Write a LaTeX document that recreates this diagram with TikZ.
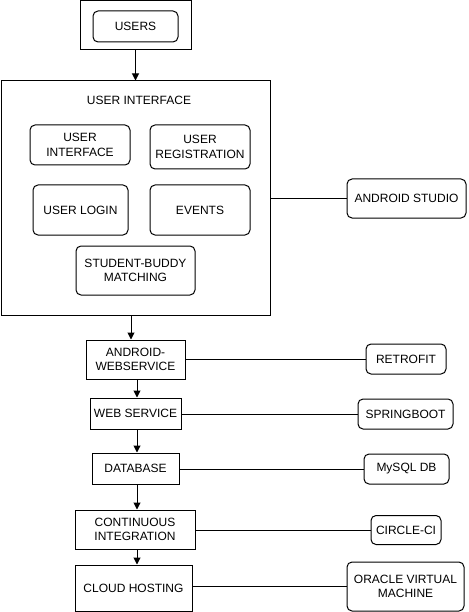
\documentclass[tikz,border=0pt]{standalone}
\usepackage{fontspec}
\setmainfont{Liberation Sans}
\usetikzlibrary{arrows.meta}
\begin{document}
\begin{tikzpicture}[x=1pt,y=-1pt,
  box/.style={draw=black,line width=1pt,inner sep=0pt,align=center,font={\fontsize{12}{14.5}\selectfont}},
  rbox/.style={box,rounded corners=5pt},
  sbox/.style={box},
  arr/.style={line width=1pt,-{Triangle[length=7pt,width=7pt]}},
  con/.style={line width=1pt}]
\useasboundingbox (0,0) rectangle (468,612);
% top
\node[sbox,minimum width=111pt,minimum height=49.5pt] (uo) at (135.5,25.25) {};
\node[rbox,minimum width=85pt,minimum height=31pt] (users) at (135.5,26.5) {USERS};
% big UI box
\node[sbox,minimum width=269pt,minimum height=234pt] (ui) at (135.5,198) {};
\node[inner sep=0pt,font={\fontsize{12}{14.5}\selectfont}] (uititle) at (139,100) {USER INTERFACE};
\node[rbox,minimum width=100pt,minimum height=40pt] (uib) at (80,145) {USER\\INTERFACE};
\node[rbox,minimum width=100pt,minimum height=44pt] (ureg) at (200,147) {USER\\REGISTRATION};
\node[rbox,minimum width=95pt,minimum height=50pt] (login) at (80.5,210) {USER LOGIN};
\node[rbox,minimum width=100pt,minimum height=50pt] (events) at (200,210) {EVENTS};
\node[rbox,minimum width=119pt,minimum height=49pt] (sbm) at (135.5,270.5) {STUDENT-BUDDY\\MATCHING};
\node[rbox,minimum width=119pt,minimum height=39pt] (as) at (406.5,198.5) {ANDROID STUDIO};
% chain
\node[sbox,minimum width=99pt,minimum height=39pt] (aws) at (135.5,359.5) {ANDROID-\\WEBSERVICE};
\node[rbox,minimum width=80pt,minimum height=30pt] (retro) at (406,359) {RETROFIT};
\node[sbox,minimum width=91pt,minimum height=31pt] (ws) at (135.5,413.5) {WEB SERVICE};
\node[rbox,minimum width=95pt,minimum height=30pt] (spring) at (405.5,414) {SPRINGBOOT};
\node[sbox,minimum width=87pt,minimum height=31pt] (db) at (135.5,468.5) {DATABASE};
\node[rbox,minimum width=85pt,minimum height=30pt] (mysql) at (406.5,469) {MySQL DB};
\node[sbox,minimum width=120pt,minimum height=39pt] (ci) at (135,529.5) {CONTINUOUS\\INTEGRATION};
\node[rbox,minimum width=70pt,minimum height=29pt] (circ) at (406,530) {CIRCLE-CI};
\node[sbox,minimum width=117pt,minimum height=46pt] (ch) at (133.5,588) {CLOUD HOSTING};
\node[rbox,minimum width=117pt,minimum height=49pt] (oracle) at (405.5,586.5) {ORACLE VIRTUAL\\MACHINE};
% arrows
\draw[arr] (uo.south) -- (ui.north);
\draw[arr] ([xshift=-4.5pt]aws.north |- ui.south) -- ([xshift=-4.5pt]aws.north);
\draw[arr] ([xshift=1.5pt]aws.south) -- ([xshift=1.5pt]ws.north);
\draw[arr] ([xshift=1.5pt]ws.south) -- ([xshift=1.5pt]db.north);
\draw[arr] ([xshift=1.5pt]db.south) -- ([xshift=2pt]ci.north);
\draw[arr] ([xshift=2pt]ci.south) -- ([xshift=3.5pt]ch.north);
% connectors
\draw[con] (ui.east |- as.west) -- (as.west);
\draw[con] (aws.east |- retro.west) -- (retro.west);
\draw[con] (ws.east |- spring.west) -- (spring.west);
\draw[con] (db.east |- mysql.west) -- (mysql.west);
\draw[con] (ci.east |- circ.west) -- (circ.west);
\draw[con] (ch.east |- oracle.west) -- (oracle.west);
\end{tikzpicture}
\end{document}
